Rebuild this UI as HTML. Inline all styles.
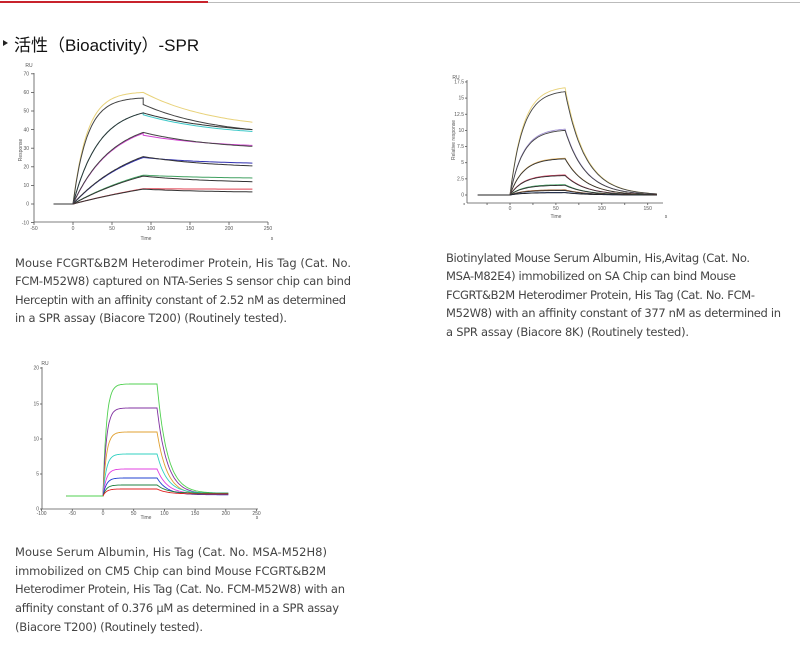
<!DOCTYPE html>
<html><head><meta charset="utf-8"><style>
html,body{margin:0;padding:0;background:#fff;width:800px;height:652px;overflow:hidden}
svg{display:block}
.t{font-family:"DejaVu Sans","Liberation Sans",sans-serif;font-size:11.5px;fill:#444}
.a{font-family:"Liberation Sans",sans-serif;font-size:5px;fill:#555}
</style></head><body>
<svg id="s" width="800" height="652" viewBox="0 0 800 652" xmlns="http://www.w3.org/2000/svg">
<rect x="0" y="1" width="208" height="2" fill="#c8232c"/>
<rect x="208" y="2" width="592" height="1" fill="#bbb"/>
<polygon points="3,40 3,46 8,43" fill="#222"/>
<text x="14" y="51" style="font-family:'Liberation Sans','Noto Sans CJK SC',sans-serif;font-size:17px;fill:#111">活性（Bioactivity）-SPR</text>

<g class="t">
<text x="15" y="267" textLength="336" lengthAdjust="spacing">Mouse FCGRT&amp;B2M Heterodimer Protein, His Tag (Cat. No.</text>
<text x="15" y="285" textLength="336" lengthAdjust="spacing">FCM-M52W8) captured on NTA-Series S sensor chip can bind</text>
<text x="15" y="304" textLength="331" lengthAdjust="spacing">Herceptin with an affinity constant of 2.52 nM as determined</text>
<text x="15" y="322" textLength="272" lengthAdjust="spacing">in a SPR assay (Biacore T200) (Routinely tested).</text>

<text x="446" y="262" textLength="304" lengthAdjust="spacing">Biotinylated Mouse Serum Albumin, His,Avitag (Cat. No.</text>
<text x="446" y="280" textLength="290" lengthAdjust="spacing">MSA-M82E4) immobilized on SA Chip can bind Mouse</text>
<text x="446" y="299" textLength="309" lengthAdjust="spacing">FCGRT&amp;B2M Heterodimer Protein, His Tag (Cat. No. FCM-</text>
<text x="446" y="317" textLength="335" lengthAdjust="spacing">M52W8) with an affinity constant of 377 nM as determined in</text>
<text x="446" y="336" textLength="243" lengthAdjust="spacing">a SPR assay (Biacore 8K) (Routinely tested).</text>

<text x="15" y="556" textLength="312" lengthAdjust="spacing">Mouse Serum Albumin, His Tag (Cat. No. MSA-M52H8)</text>
<text x="15" y="575" textLength="311" lengthAdjust="spacing">immobilized on CM5 Chip can bind Mouse FCGRT&amp;B2M</text>
<text x="15" y="593" textLength="330" lengthAdjust="spacing">Heterodimer Protein, His Tag (Cat. No. FCM-M52W8) with an</text>
<text x="15" y="612" textLength="324" lengthAdjust="spacing">affinity constant of 0.376 μM as determined in a SPR assay</text>
<text x="15" y="631" textLength="188" lengthAdjust="spacing">(Biacore T200) (Routinely tested).</text>
</g>
<g id="c"></g>
</svg>
<script>
var g=document.getElementById('c'),NS='http://www.w3.org/2000/svg';
function el(t,a,txt){var e=document.createElementNS(NS,t);for(var k in a)e.setAttribute(k,a[k]);if(txt!=null)e.textContent=txt;g.appendChild(e);return e;}
function line(x1,y1,x2,y2,c,w){el('line',{x1:x1,y1:y1,x2:x2,y2:y2,stroke:c||'#555','stroke-width':w||0.8});}
function txt(x,y,s,anc,sz){el('text',{x:x,y:y,'class':'a','text-anchor':anc||'middle','font-size':sz||5},s);}
function path(pts,c,w){var d='M'+pts.map(function(p){return p[0].toFixed(1)+','+p[1].toFixed(1)}).join('L');el('path',{d:d,fill:'none',stroke:c,'stroke-width':w||1});}

(function(){
 var X=function(t){return 73+t*0.78},Y=function(v){return 204-v*1.86};
 line(34,73,34,222);line(34,222,268,222);
 for(var v=-10;v<=70;v+=10){line(31,Y(v),34,Y(v));txt(29,Y(v)+1.7,v,'end');}
 for(var t=-50;t<=250;t+=50){line(X(t),222,X(t),225);txt(X(t),230,t);}
 txt(29,67,'RU');txt(146,240,'Time');txt(272,240,'s');
 el('text',{x:0,y:0,'class':'a',transform:'translate(22,150) rotate(-90)','text-anchor':'middle'},'Response');
 var S=[[60,0,44,'#e8d27a',0.055],[57,3.5,40,'#444',0.055],[49,1,39,'#3cc8c8',0.03],[49,0,40,'#333',0.03],
 [38,1,31.5,'#d040d0',0.02],[38.5,0,31,'#444',0.02],[25,0,22,'#3030b0',0.012],[25.5,0,20.5,'#333',0.012],
 [15.5,0,14,'#40a060',0.008],[15,0,12,'#333',0.008],[8.2,0,8,'#e04050',0.005],[8,0,6.5,'#333',0.005]];
 S.forEach(function(s){
  var pts=[[X(-25),Y(0)],[X(0),Y(0)]],R=s[0],k=s[4];var norm=1-Math.exp(-k*90);
  for(var t=0;t<=90;t+=2)pts.push([X(t),Y(R*(1-Math.exp(-k*t))/norm)]);
  var st=R-s[1],e=s[2];
  for(var t=90;t<=230;t+=4){var f=(t-90)/140;pts.push([X(t),Y(e+(st-e)*(Math.exp(-1.5*f)-Math.exp(-1.5))/(1-Math.exp(-1.5)))]);}
  path(pts,s[3],1);
 });
})();

(function(){
 var X=function(t){return 510+t*0.918},Y=function(v){return 195-v*6.46};
 line(467,80,467,203);line(467,203,663,203);
 [0,2.5,5,7.5,10,12.5,15,17.5].forEach(function(v){line(465,Y(v),467,Y(v));txt(464,Y(v)+1.5,v,'end',4);});
 for(var t=-50;t<=150;t+=25){line(X(t),203,X(t),205);}
 [0,50,100,150].forEach(function(t){txt(X(t),210,t,'middle',4);});
 txt(456,79,'RU','middle',4);txt(556,218,'Time','middle',4);txt(666,218,'s','middle',4);
 el('text',{x:0,y:0,'class':'a',transform:'translate(455,140) rotate(-90)','text-anchor':'middle','font-size':4},'Relative response');
 var S=[[16.6,'#e8d27a'],[16,'#444'],[10.2,'#a090d0'],[10,'#444'],[5.7,'#e0b060'],[5.6,'#333'],[3.1,'#d04060'],[3,'#333'],[1.6,'#40a060'],[1.5,'#333'],[0.8,'#a06030'],[0.7,'#333'],[0.4,'#3050a0'],[0.35,'#222']];
 S.forEach(function(s){
  var R=s[0],k=0.07,n=1-Math.exp(-k*60),pts=[[X(-35),Y(0)],[X(0),Y(0)]];
  for(var t=0;t<=60;t+=2)pts.push([X(t),Y(R*(1-Math.exp(-k*t))/n)]);
  for(var t=60;t<=160;t+=2)pts.push([X(t),Y(R*Math.exp(-0.045*(t-60)))]);
  path(pts,s[1],0.9);
 });
})();

(function(){
 var X=function(t){return 103+t*0.614};
 line(42,367,42,509);line(42,509,258,509);
 [368,404,439,474,509].forEach(function(y,i){line(40,y,42,y);txt(39,y+1.5,['20','15','10','5','0'][i],'end',3.5);});
 for(var t=-100;t<=250;t+=50){line(X(t),509,X(t),511);txt(X(t),515,t,'middle',3.5);}
 txt(45,365,'RU','middle',3.5);txt(146,519,'Time','middle',3.5);txt(257,519,'s','middle',3.5);
 var S=[[384,'#50d050'],[408,'#8030a0'],[432,'#e0a030'],[454,'#30d0c0'],[469,'#e040e0'],[478,'#2040d0'],[485,'#208040'],[489,'#e02020']];
 var b=496;
 S.forEach(function(s,i){
  var P=s[0],pts=[[X(-60),b],[X(0),b]];
  for(var t=0;t<=88;t+=1)pts.push([X(t),b-(b-P)*(1-Math.exp(-0.18*t))]);
  var end=494+(i%3-1)*0.8;
  for(var t=88;t<=205;t+=2)pts.push([X(t),end-(end-P)*Math.exp(-0.06*(t-88))]);
  path(pts,s[1],0.9);
 });
 path([[X(-60),b],[X(0),b]],'#50d050',1);
})();
</script>
</body></html>
